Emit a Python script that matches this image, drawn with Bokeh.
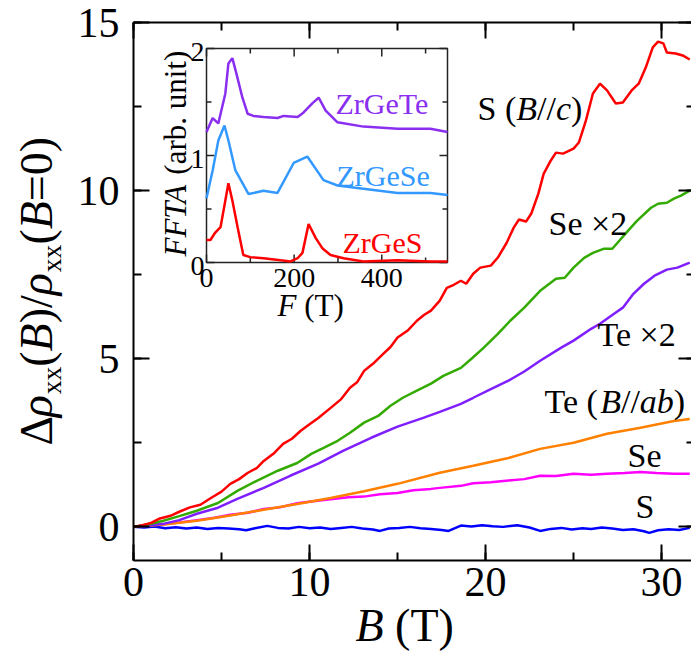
import math
from bokeh.plotting import figure
from bokeh.models import Range1d, LinearAxis, SingleIntervalTicker, Label
from bokeh.core.properties import value
from bokeh.embed import file_html
from bokeh.resources import INLINE

FONT = "Liberation Serif"

# ---------------- data ----------------
s_c_B = [0, 0.5, 1.0, 1.5, 2.1, 2.6, 3.2, 3.8, 4.4, 5.0, 5.5, 6.0, 6.5, 7.0, 7.4, 8.0, 8.5, 9.0, 9.5, 10.0,
         10.5, 11.2, 11.8, 12.3, 12.7, 13.1, 13.6, 14.2, 14.6, 15.0, 15.6, 16.1, 16.5, 16.9, 17.4, 17.8, 18.2,
         18.6, 18.9, 19.3, 19.7, 20.3, 20.7, 21.2, 21.6, 21.9, 22.3, 22.6, 23.0, 23.3, 23.7, 24.0, 24.4, 25.0,
         25.3, 25.7, 26.1, 26.5, 26.9, 27.4, 27.8, 28.3, 28.7, 29.1, 29.5, 29.8, 30.1, 30.3, 30.8, 31.2, 31.6]
s_c_MR = [0.0, 0.05, 0.12, 0.25, 0.33, 0.45, 0.58, 0.66, 0.86, 1.05, 1.28, 1.42, 1.61, 1.75, 1.96, 2.2, 2.47,
          2.62, 2.86, 3.05, 3.24, 3.54, 3.8, 4.14, 4.3, 4.64, 4.85, 5.15, 5.35, 5.63, 5.85, 6.13, 6.3, 6.43,
          6.73, 7.11, 7.2, 7.32, 7.23, 7.53, 7.71, 7.77, 8.01, 8.45, 8.9, 9.14, 9.08, 9.32, 9.91, 10.5, 10.89,
          11.13, 11.1, 11.25, 11.43, 12.08, 12.89, 13.18, 12.98, 12.59, 12.62, 12.98, 13.18, 13.66, 14.26,
          14.43, 14.38, 14.11, 14.08, 14.02, 13.9]

se2_B = [0, 0.8, 1.7, 2.6, 3.6, 4.8, 5.9, 7.0, 8.2, 9.3, 10.1, 10.8, 11.6, 12.3, 13.1, 13.9, 14.6, 15.3, 16.1,
         16.9, 17.6, 18.6, 19.2, 19.9, 20.7, 21.4, 22.2, 23.1, 24.0, 24.5, 25.0, 25.6, 26.1, 26.7, 27.2, 27.5,
         28.1, 28.6, 29.4, 29.8, 30.3, 30.7, 31.1, 31.6]
se2_MR = [0, 0.07, 0.18, 0.32, 0.48, 0.71, 1.07, 1.37, 1.67, 1.9, 2.17, 2.35, 2.56, 2.8, 3.1, 3.3, 3.6, 3.84,
          4.05, 4.26, 4.49, 4.73, 5.0, 5.33, 5.74, 6.13, 6.52, 7.02, 7.38, 7.41, 7.71, 8.0, 8.15, 8.27, 8.27,
          8.45, 8.81, 9.1, 9.49, 9.61, 9.64, 9.76, 9.85, 10.0]

te2_B = [0, 0.8, 1.7, 2.6, 3.6, 4.8, 5.9, 7.4, 8.9, 10.5, 11.9, 13.5, 15.0, 16.5, 17.4, 18.6, 19.3, 20.3, 21.3,
         22.2, 23.1, 24.3, 25.0, 26.0, 26.5, 27.3, 27.8, 28.4, 29.0, 29.6, 30.3, 30.9, 31.6]
te2_MR = [0, 0.04, 0.09, 0.2, 0.39, 0.57, 0.83, 1.16, 1.52, 1.88, 2.26, 2.65, 2.98, 3.25, 3.42, 3.66, 3.84, 4.1,
          4.35, 4.62, 4.94, 5.33, 5.54, 5.89, 6.04, 6.34, 6.52, 6.93, 7.23, 7.47, 7.65, 7.71, 7.86]

te_ab_B = [0, 1.7, 3.6, 5.5, 7.4, 9.3, 11.2, 13.1, 15.0, 17.4, 19.3, 21.3, 23.1, 25.0, 26.9, 28.8, 30.7, 31.6]
te_ab_MR = [0, 0.07, 0.18, 0.34, 0.51, 0.68, 0.86, 1.06, 1.28, 1.61, 1.82, 2.05, 2.32, 2.5, 2.77, 2.95, 3.15, 3.21]

se_B = [0, 0.8, 1.7, 2.6, 3.6, 4.6, 5.5, 6.5, 7.4, 8.3, 9.3, 10.2, 11.2, 12.2, 13.1, 14.0, 15.0, 15.9, 16.9,
        17.4, 18.6, 19.3, 20.3, 21.3, 22.2, 23.1, 24.0, 25.0, 26.0, 26.9, 27.9, 28.8, 29.7, 30.7, 31.6]
se_MR = [0, 0.06, 0.08, 0.13, 0.2, 0.27, 0.36, 0.42, 0.53, 0.58, 0.7, 0.76, 0.82, 0.88, 0.9, 0.97, 1.01, 1.09,
         1.13, 1.16, 1.22, 1.3, 1.33, 1.38, 1.42, 1.52, 1.51, 1.58, 1.55, 1.58, 1.6, 1.63, 1.6, 1.58, 1.58]

s_B = [0, 0.6, 1.2, 1.8, 2.4, 3.0, 3.6, 4.2, 4.8, 5.4, 6.0, 6.4, 6.9, 7.6, 8.2, 8.8, 9.4, 10.0, 10.6, 11.2,
       11.8, 12.4, 13.0, 13.6, 14.0, 14.5, 15.1, 15.7, 16.3, 16.9, 17.5, 17.9, 18.6, 19.2, 19.8, 20.4, 21.0,
       21.8, 22.5, 23.1, 23.7, 24.3, 24.9, 25.5, 26.0, 26.6, 27.2, 27.8, 28.4, 29.0, 29.3, 29.8, 30.4, 31.0, 31.6]
s_MR = [0, -0.02, 0.01, -0.04, -0.01, -0.05, -0.02, -0.06, -0.03, -0.05, -0.07, -0.1, -0.04, 0.03, -0.03,
        -0.05, 0.0, -0.04, -0.02, -0.06, -0.03, 0.0, -0.05, -0.08, -0.12, -0.05, -0.03, 0.0, -0.04, -0.06,
        -0.09, -0.12, 0.04, 0.01, 0.05, 0.02, 0.0, 0.05, -0.02, -0.12, -0.06, -0.03, -0.08, -0.04, -0.06,
        -0.02, -0.05, -0.09, -0.07, -0.13, -0.18, -0.1, -0.07, -0.09, -0.03]

# inset: FFT amplitude vs frequency
zgs_F = [0, 9, 20, 32, 43, 50, 59, 71, 84, 100, 130, 169, 192, 208, 219, 233, 249, 265, 283, 313, 358, 436, 511, 550]
zgs_A = [0.21, 0.21, 0.28, 0.33, 0.58, 0.74, 0.58, 0.33, 0.07, 0.05, 0.04, 0.02, 0.01, 0.04, 0.09, 0.36, 0.23,
         0.13, 0.07, 0.04, 0.01, 0.02, 0.01, 0.01]
zgse_F = [0, 14, 27, 41, 50, 66, 96, 130, 162, 199, 230, 267, 299, 358, 436, 511, 550]
zgse_A = [0.60, 0.86, 1.14, 1.28, 1.14, 0.86, 0.64, 0.67, 0.65, 0.93, 0.99, 0.77, 0.72, 0.69, 0.65, 0.65, 0.63]
zgte_F = [0, 14, 27, 43, 50, 59, 68, 82, 94, 107, 130, 162, 176, 208, 221, 242, 256, 272, 299, 358, 436, 511, 550]
zgte_A = [1.22, 1.35, 1.30, 1.58, 1.86, 1.91, 1.77, 1.54, 1.39, 1.37, 1.36, 1.35, 1.37, 1.36, 1.40, 1.49, 1.54,
          1.42, 1.31, 1.27, 1.25, 1.25, 1.22]

x_ticks_major_inset = [0, 200, 400]
x_ticks_minor_inset = [100, 300, 500]
y_ticks_major_inset = [0, 1, 2]
y_ticks_minor_inset = [0.5, 1.5]
x_tick_labels_inset = ["0", "200", "400"]
y_tick_labels_inset = ["0", "1", "2"]

# ---------------- layout constants (px of the reference picture) ----------------
W, H = 691, 655
FL, FR, FT, FB = 133, 691, 22, 560          # main axes box
IL, IR, IT, IB = 206, 447, 48, 262          # inset box
B_LO, B_HI, R_LO, R_HI = 0, 31.7, -1, 15    # main data limits
F_LO, F_HI, A_LO, A_HI = 0, 550, 0, 2       # inset data limits
K_BASE = 0.35                                # baseline correction (em)

RED, GREEN, PURPLE, ORANGE, MAGENTA, BLUE = "#ff0000", "#33aa00", "#7f1fff", "#ff8000", "#ff00ff", "#0000ff"
LBLUE, IPURPLE = "#3399ff", "#8a2ff0"

sx = (FR - FL) / (B_HI - B_LO)
sy = (FB - FT) / (R_HI - R_LO)
p = figure(width=W, height=H,
           x_range=Range1d(B_LO - FL / sx, B_HI + (W - FR) / sx),
           y_range=Range1d(R_LO - (H - FB) / sy, R_HI + FT / sy),
           output_backend="svg", toolbar_location=None,
           min_border_left=0, min_border_right=0, min_border_top=0, min_border_bottom=0)
p.outline_line_color = None
p.xgrid.visible = False
p.ygrid.visible = False
p.background_fill_color = "white"
p.border_fill_color = "white"

xt = SingleIntervalTicker(interval=10, num_minor_ticks=2)
yt = SingleIntervalTicker(interval=5, num_minor_ticks=2)


def style_axis(ax, show_labels=True, show_line=True):
    ax.major_tick_in = 16
    ax.major_tick_out = 0
    ax.minor_tick_in = 8
    ax.minor_tick_out = 0
    ax.axis_line_width = 2
    ax.axis_line_color = "black" if show_line else None
    ax.major_tick_line_width = 2
    ax.minor_tick_line_width = 2
    ax.major_tick_line_color = "black"
    ax.minor_tick_line_color = "black"
    ax.major_label_text_font = FONT
    ax.major_label_text_font_size = "42px"
    ax.major_label_text_color = "black" if show_labels else None


bx = p.xaxis[0]
bx.ticker = xt
bx.fixed_location = R_LO
bx.bounds = (B_LO, B_HI)
style_axis(bx)
bx.major_label_standoff = 7

ly = p.yaxis[0]
ly.ticker = yt
ly.fixed_location = B_LO
ly.bounds = (R_LO, R_HI)
style_axis(ly)
ly.major_label_standoff = 14

top = LinearAxis(ticker=xt, fixed_location=R_HI, bounds=(B_LO, B_HI))
style_axis(top, show_labels=False)
p.add_layout(top, "above")
right = LinearAxis(ticker=yt, fixed_location=B_HI + 3 / sx, bounds=(R_LO, R_HI))
style_axis(right, show_labels=False, show_line=False)
p.add_layout(right, "right")

# ---------------- main curves ----------------
LW = 2.5
p.line(s_B, s_MR, line_color=BLUE, line_width=LW)
p.line(se_B, se_MR, line_color=MAGENTA, line_width=LW)
p.line(te_ab_B, te_ab_MR, line_color=ORANGE, line_width=LW)
p.line(te2_B, te2_MR, line_color=PURPLE, line_width=LW)
p.line(se2_B, se2_MR, line_color=GREEN, line_width=LW)
p.line(s_c_B, s_c_MR, line_color=RED, line_width=LW)

# ---------------- inset (own ranges mapped onto its box) ----------------
fx_scale = (IR - IL) / (F_HI - F_LO)
fy_scale = (IB - IT) / (A_HI - A_LO)
p.extra_x_ranges = {"fx": Range1d(F_LO - IL / fx_scale, F_HI + (W - IR) / fx_scale)}
p.extra_y_ranges = {"fy": Range1d(A_LO - (H - IB) / fy_scale, A_HI + IT / fy_scale)}
ins = dict(x_range_name="fx", y_range_name="fy")

p.quad(left=[F_LO], right=[F_HI], bottom=[A_LO], top=[A_HI], fill_color="white",
       line_color="#222222", line_width=1.5, **ins)
for xs, ln in ((x_ticks_major_inset, 8), (x_ticks_minor_inset, 5)):
    p.ray(x=xs, y=[A_LO] * len(xs), length=ln, length_units="screen", angle=math.pi / 2,
          line_color="#222222", line_width=1.5, **ins)
    p.ray(x=xs, y=[A_HI] * len(xs), length=ln, length_units="screen", angle=-math.pi / 2,
          line_color="#222222", line_width=1.5, **ins)
for ys, ln in ((y_ticks_major_inset, 8), (y_ticks_minor_inset, 5)):
    p.ray(x=[F_LO] * len(ys), y=ys, length=ln, length_units="screen", angle=0,
          line_color="#222222", line_width=1.5, **ins)
    p.ray(x=[F_HI] * len(ys), y=ys, length=ln, length_units="screen", angle=math.pi,
          line_color="#222222", line_width=1.5, **ins)

p.line(zgs_F, zgs_A, line_color=RED, line_width=2.5, **ins)
p.line(zgse_F, zgse_A, line_color=LBLUE, line_width=2.5, **ins)
p.line(zgte_F, zgte_A, line_color=IPURPLE, line_width=2.5, **ins)

p.text(x=x_ticks_major_inset, y=[A_LO] * 3, text=x_tick_labels_inset, text_align="center",
       text_baseline="alphabetic", y_offset=25 - K_BASE * 28, text_font=value(FONT),
       text_font_size=value("28px"), text_color="black", **ins)
p.text(x=[F_LO] * 3, y=y_ticks_major_inset, text=y_tick_labels_inset, text_align="right",
       text_baseline="middle", x_offset=-2, y_offset=3, text_font=value(FONT),
       text_font_size=value("28px"), text_color="black", **ins)

# ---------------- rich-text labels ----------------
W_REG = {" ": .25, "(": .333, ")": .333, "/": .278, "=": .564, "×": .564, ".": .25,
         "S": .556, "e": .444, "T": .611, "Z": .611, "r": .333, "G": .722, "a": .444, "b": .5,
         "u": .5, "n": .5, "i": .278, "t": .278, "x": .5, "Δ": .612, "ρ": .5}
W_IT = {"B": .611, "c": .444, "a": .5, "b": .5, "F": .611, "T": .556, "A": .611, "ρ": .5}


def tw(text, ital):
    tab = W_IT if ital else W_REG
    return sum(tab.get(ch, W_REG.get(ch, 0.5)) for ch in text)


def put(pieces, xs, ys, size, color="black", vertical=False):
    """pieces: (text, italic, scale, baseline shift px); xs, ys: baseline start in picture px."""
    adv = 0.0
    for text, ital, sc, shift in pieces:
        fs = size * sc
        lead = len(text) - len(text.lstrip(" "))
        adv += lead * W_REG[" "] * fs
        body = text.lstrip(" ")
        corr = K_BASE * fs
        if vertical:
            x, y = xs + shift - corr, H - (ys - adv)
        else:
            x, y = xs + adv, H - (ys + shift - corr)
        p.add_layout(Label(x=x, y=y, x_units="screen", y_units="screen", text=body,
                           angle=math.pi / 2 if vertical else 0, text_font=FONT,
                           text_font_style="italic" if ital else "normal",
                           text_font_size=f"{fs:.1f}px", text_color=color,
                           text_baseline="alphabetic", text_align="left"))
        adv += tw(body, ital) * fs


SUB = 0.6
put([("B", True, 1, 0), (" (T)", False, 1, 0)], 355, 641, 46)
put([("Δ", False, 1, 0), ("ρ", True, 1, 0), ("xx", False, SUB, 9), ("(", False, 1, 0), ("B", True, 1, 0),
     (")/", False, 1, 0), ("ρ", True, 1, 0), ("xx", False, SUB, 9), ("(", False, 1, 0), ("B", True, 1, 0),
     ("=0)", False, 1, 0)], 52, 445, 46, vertical=True)

put([("S (", False, 1, 0), ("B", True, 1, 0), ("//", False, 1, 0), ("c", True, 1, 0), (")", False, 1, 0)],
    477, 120, 34)
put([("Se ×2", False, 1, 0)], 548, 235, 34)
put([("Te ×2", False, 1, 0)], 597, 346, 34)
put([("Te (", False, 1, 0), ("B", True, 1, 0), ("//", False, 1, 0), ("ab", True, 1, 0), (")", False, 1, 0)],
    544, 413, 34)
put([("Se", False, 1, 0)], 627, 467, 34)
put([("S", False, 1, 0)], 635, 518, 34)

put([("ZrGeTe", False, 1, 0)], 335, 113, 30, color=IPURPLE)
put([("ZrGeSe", False, 1, 0)], 336, 185, 30, color=LBLUE)
put([("ZrGeS", False, 1, 0)], 342, 252, 30, color=RED)
put([("F", True, 1, 0), (" (T)", False, 1, 0)], 277, 316, 31)
put([("FFTA", True, 1, 0), (" (arb. unit)", False, 1, 0)], 186, 256, 31, vertical=True)

open("out.html", "w").write(file_html(p, INLINE))
